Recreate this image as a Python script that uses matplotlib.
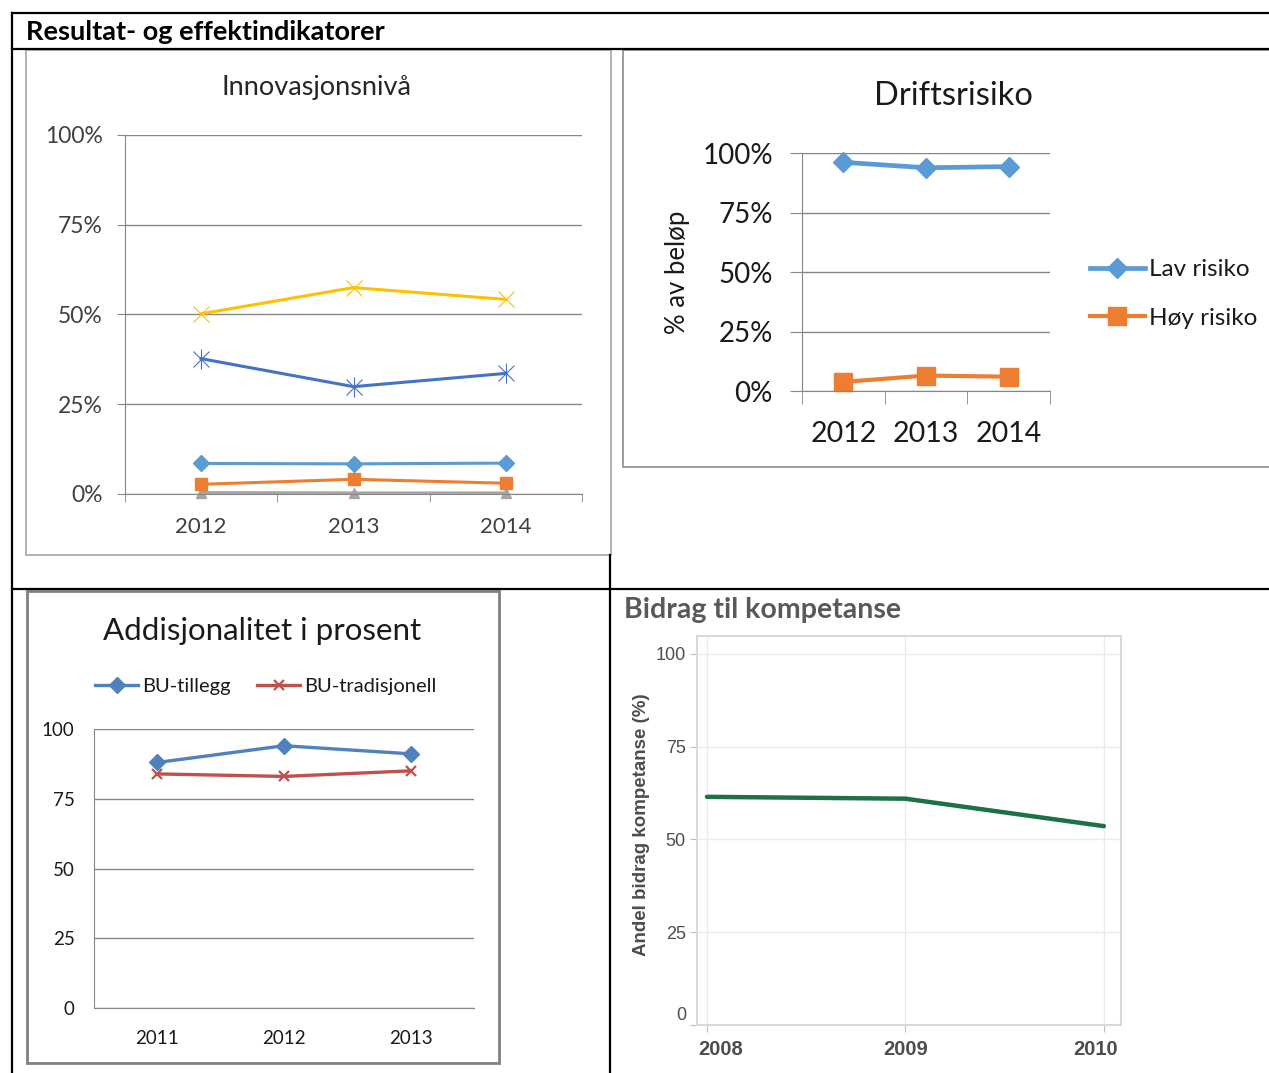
import numpy as np
import matplotlib.pyplot as plt
from matplotlib.patches import Rectangle
from matplotlib.lines import Line2D
from matplotlib.transforms import ScaledTranslation

W, H = 1269, 1073

# Innovasjonsnivå (andel)
innov_years = ['2012', '2013', '2014']
innov_yellow = [0.502, 0.575, 0.542]
innov_darkblue = [0.377, 0.299, 0.336]
innov_lightblue = [0.085, 0.084, 0.086]
innov_orange = [0.027, 0.041, 0.030]
innov_gray = [0.004, 0.003, 0.003]

# Driftsrisiko (% av beløp)
drift_years = ['2012', '2013', '2014']
lav_risiko = [0.961, 0.938, 0.943]
hoy_risiko = [0.038, 0.065, 0.060]

# Addisjonalitet i prosent
add_years = ['2011', '2012', '2013']
bu_tillegg = [88.0, 94.0, 91.1]
bu_tradisjonell = [83.9, 83.0, 85.0]

# Bidrag til kompetanse
komp_years = [2008, 2009, 2010]
komp_andel = [61.5, 61.0, 53.6]

CAL = ['Lato', 'DejaVu Sans']
NARROW = ['Liberation Sans Narrow', 'Liberation Sans']
plt.rcParams['font.family'] = CAL

fig = plt.figure(figsize=(W / 100, H / 100), dpi=100)


def px_axes(x0, y0, x1, y1):
    return fig.add_axes([x0 / W, 1 - y1 / H, (x1 - x0) / W, (y1 - y0) / H])


def fx(x):
    return x / W


def fy(y):
    return 1 - y / H


# table borders and chart frames
bg = fig.add_axes([0, 0, 1, 1])
bg.set_xlim(0, W)
bg.set_ylim(H, 0)
bg.axis('off')
for (x0, y0, x1, y1) in [(12, 13, W, 13), (12, 49, W, 49), (12, 589, W, 589),
                         (12, 13, 12, H), (610, 555, 610, H)]:
    bg.add_line(Line2D([x0, x1], [y0, y1], color='black', lw=1.6))
bg.add_patch(Rectangle((26, 50), 585, 505, facecolor='white', edgecolor='#a6a6a6', lw=1.2))
bg.add_patch(Rectangle((623, 50), 660, 417, facecolor='white', edgecolor='#8c8c8c', lw=1.2, clip_on=False))
bg.add_patch(Rectangle((27, 591), 472, 472, facecolor='white', edgecolor='#808080', lw=2))

fig.text(fx(26), fy(32), 'Resultat- og effektindikatorer', fontsize=19.5, fontweight='bold',
         ha='left', va='center')

# ---- Innovasjonsnivå
ax1 = px_axes(125, 135, 582, 494)
x = np.arange(len(innov_years))
ax1.plot(x, innov_gray, color='#a5a5a5', lw=2.2, marker='^', ms=7, clip_on=False)
ax1.plot(x, innov_orange, color='#ed7d31', lw=2.2, marker='s', ms=9, clip_on=False)
ax1.plot(x, innov_lightblue, color='#5b9bd5', lw=2.2, marker='D', ms=8, clip_on=False)
ax1.plot(x, innov_darkblue, color='#4472c4', lw=2.2)
ax1.plot(x, innov_darkblue, ls='none', marker='x', ms=12, mew=0.8, color='#4472c4')
ax1.plot(x, innov_darkblue, ls='none', marker='|', ms=14, mew=0.8, color='#4472c4')
ax1.plot(x, innov_yellow, color='#ffc000', lw=2.2, marker='x', ms=12, mew=0.8)
ax1.set_xlim(-0.5, 2.5)
ax1.set_ylim(0, 1)
ax1.set_yticks([0, 0.25, 0.5, 0.75, 1.0])
ax1.set_yticklabels(['0%', '25%', '50%', '75%', '100%'])
ax1.set_xticks(x)
ax1.set_xticklabels(innov_years)
ax1.set_xticks([-0.5, 0.5, 1.5, 2.5], minor=True)
ax1.yaxis.grid(True, color='#868686', lw=1)
ax1.set_axisbelow(True)
ax1.tick_params(axis='y', length=6, color='#868686', pad=10, labelsize=16.5, labelcolor='#404040')
ax1.tick_params(axis='x', which='major', length=0, pad=16.5, labelsize=16, labelcolor='#404040')
ax1.tick_params(axis='x', which='minor', length=6, color='#868686')
for s in ['top', 'right']:
    ax1.spines[s].set_visible(False)
for s in ['left', 'bottom']:
    ax1.spines[s].set_color('#868686')
ax1.set_facecolor('none')
fig.text(fx(317), fy(88), 'Innovasjonsnivå', fontsize=19.5, ha='center', va='center', color='#262626')

# ---- Driftsrisiko
ax2 = px_axes(802, 153, 1050, 391)
x = np.arange(len(drift_years))
ax2.plot(x, lav_risiko, color='#5b9bd5', lw=3.4, marker='D', ms=10, label='Lav risiko', clip_on=False)
ax2.plot(x, hoy_risiko, color='#ed7d31', lw=3.0, marker='s', ms=13, label='Høy risiko', clip_on=False)
ax2.set_xlim(-0.5, 2.5)
ax2.set_ylim(0, 1)
ax2.set_yticks([0, 0.25, 0.5, 0.75, 1.0])
ax2.set_yticklabels(['0%', '25%', '50%', '75%', '100%'])
ax2.set_xticks(x)
ax2.set_xticklabels(drift_years)
ax2.set_xticks([-0.5, 0.5, 1.5, 2.5], minor=True)
ax2.yaxis.grid(True, color='#868686', lw=1)
ax2.set_axisbelow(True)
ax2.tick_params(axis='y', length=9, color='#868686', pad=12, labelsize=20, labelcolor='#1a1a1a')
ax2.tick_params(axis='x', which='major', length=0, pad=21.5, labelsize=20.5, labelcolor='#1a1a1a')
ax2.tick_params(axis='x', which='minor', length=9, color='#868686')
for s in ['top', 'right']:
    ax2.spines[s].set_visible(False)
for s in ['left', 'bottom']:
    ax2.spines[s].set_color('#868686')
ax2.set_facecolor('none')
fig.text(fx(953), fy(96), 'Driftsrisiko', fontsize=23.5, ha='center', va='center', color='#1a1a1a')
fig.text(fx(677), fy(272), '% av beløp', fontsize=18.5, rotation=90, ha='center', va='center', color='#1a1a1a')
ax2.legend(loc='center left', bbox_to_anchor=(fx(1090), fy(294)), bbox_transform=fig.transFigure,
           frameon=False, fontsize=17.5, handlelength=2.26, handletextpad=0.16, labelspacing=1.12,
           borderpad=0, borderaxespad=0, labelcolor='#1a1a1a')

# ---- Addisjonalitet i prosent
ax3 = px_axes(94, 729, 474, 1008)
x = np.arange(len(add_years))
ax3.plot(x, bu_tillegg, color='#4f81bd', lw=2.4, marker='D', ms=8, label='BU-tillegg')
ax3.plot(x, bu_tradisjonell, color='#c0504d', lw=2.4, marker='x', ms=7, mew=1.6, label='BU-tradisjonell')
ax3.set_xlim(-0.5, 2.5)
ax3.set_ylim(0, 100)
ax3.set_yticks([0, 25, 50, 75, 100])
ax3.set_xticks(x)
ax3.set_xticklabels(add_years)
ax3.yaxis.grid(True, color='#868686', lw=1)
ax3.set_axisbelow(True)
ax3.tick_params(axis='both', length=0, labelsize=13.5, labelcolor='#1a1a1a')
ax3.tick_params(axis='y', pad=14)
ax3.tick_params(axis='x', pad=16)
for s in ['top', 'right']:
    ax3.spines[s].set_visible(False)
for s in ['left', 'bottom']:
    ax3.spines[s].set_color('#868686')
ax3.set_facecolor('none')
fig.text(fx(262), fy(631), 'Addisjonalitet i prosent', fontsize=22.5, ha='center', va='center', color='#1a1a1a')
ax3.legend(loc='center', bbox_to_anchor=(fx(266), fy(686)), bbox_transform=fig.transFigure, ncol=2,
           frameon=False, fontsize=14.5, handlelength=2.14, handletextpad=0.2, columnspacing=1.3,
           borderpad=0, borderaxespad=0, labelcolor='#1a1a1a')

# ---- Bidrag til kompetanse
ax4 = px_axes(697, 636, 1121, 1025)
ax4.plot(komp_years, komp_andel, color='#1e7145', lw=3.2, solid_capstyle='round')
ax4.set_xlim(2007.95, 2010.086)
ax4.set_ylim(0, 104.85)
ax4.set_xticks(komp_years)
ax4.set_yticks([0, 25, 50, 75, 100])
ax4.grid(True, color='#ebebeb', lw=1)
ax4.set_axisbelow(True)
for s in ax4.spines.values():
    s.set_color('#d9d9d9')
    s.set_linewidth(1.5)
ax4.tick_params(axis='y', length=5, color='#bfbfbf', pad=3, labelsize=13, labelcolor='#4d4d4d')
ax4.tick_params(axis='x', length=5, color='#bfbfbf', pad=6, labelsize=14.5, labelcolor='#4d4d4d')
for lab in ax4.get_yticklabels():
    lab.set_family(NARROW)
for lab in ax4.get_xticklabels():
    lab.set_family(NARROW)
    lab.set_fontweight('bold')
# end labels pulled inwards, as in the original
ylabs = ax4.get_yticklabels()
ylabs[0].set_transform(ylabs[0].get_transform() + ScaledTranslation(0, 11 / 100, fig.dpi_scale_trans))
xlabs = ax4.get_xticklabels()
xlabs[0].set_transform(xlabs[0].get_transform() + ScaledTranslation(14 / 100, 0, fig.dpi_scale_trans))
xlabs[-1].set_transform(xlabs[-1].get_transform() + ScaledTranslation(-8 / 100, 0, fig.dpi_scale_trans))
ax4.set_facecolor('none')
fig.text(fx(624), fy(610), 'Bidrag til kompetanse', fontsize=20.5, fontweight='bold', ha='left',
         va='center', color='#595959')
fig.text(fx(642), fy(825), 'Andel bidrag kompetanse (%)', fontsize=13.5, fontweight='bold',
         family=['Liberation Sans', 'DejaVu Sans'], rotation=90, ha='center', va='center', color='#4d4d4d')

fig.savefig('out.png', dpi=100)
